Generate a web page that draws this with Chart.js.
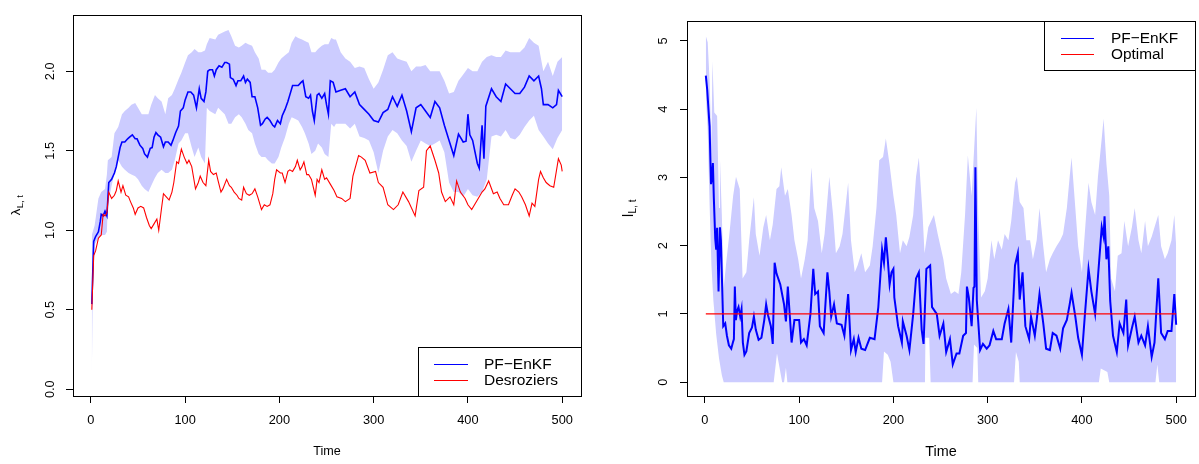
<!DOCTYPE html>
<html>
<head>
<meta charset="utf-8">
<script src="https://cdn.jsdelivr.net/npm/chart.js@4/dist/chart.umd.min.js"></script>
<style>
  html, body { margin: 0; padding: 0; background: #fff; }
  #wrap { position: relative; width: 1199px; height: 464px; }
  canvas { position: absolute; top: 0; }
  #lambdaChart { left: 0; }
  #lChart { left: 600px; }
</style>
</head>
<body>
<div id="wrap">
  <canvas id="lambdaChart" width="600" height="464"></canvas>
  <canvas id="lChart" width="599" height="464"></canvas>
</div>
<script>
// [time, value] pairs for the PF-EnKF posterior mean of lambda
const lambdaMean = [
  [1,0.535],[3,0.93],[5,0.96],[8,0.99],[10,1.055],[11,1.10],[13,1.09],[15,1.12],[17,1.09],[19,1.30],
  [22,1.32],[25,1.36],[27,1.40],[29,1.46],[31,1.52],[33,1.555],[36,1.555],[39,1.575],[41,1.585],[44,1.60],
  [47,1.575],[49,1.575],[52,1.535],[55,1.515],[57,1.48],[60,1.46],[63,1.515],[65,1.52],[67,1.585],[69,1.615],
  [71,1.60],[74,1.585],[77,1.525],[79,1.555],[82,1.555],[85,1.535],[87,1.565],[90,1.615],[93,1.655],[95,1.75],
  [98,1.77],[100,1.82],[103,1.87],[106,1.87],[109,1.85],[112,1.77],[115,1.89],[117,1.83],[120,1.81],[122,1.87],
  [124,2.00],[126,2.01],[129,2.01],[131,1.97],[133,2.01],[136,2.035],[139,2.025],[142,2.055],[144,2.055],[147,2.045],
  [148,1.96],[151,1.95],[154,1.91],[156,1.94],[159,1.94],[162,1.97],[164,1.93],[166,1.95],[169,1.93],[171,1.84],
  [174,1.84],[177,1.77],[180,1.66],[182,1.67],[185,1.70],[187,1.71],[190,1.69],[193,1.66],[195,1.65],[198,1.69],
  [201,1.67],[203,1.72],[206,1.76],[209,1.81],[211,1.85],[214,1.91],[217,1.91],[220,1.91],[223,1.93],[225,1.94],
  [228,1.84],[231,1.83],[233,1.85],[235,1.75],[237,1.69],[240,1.85],[242,1.86],[245,1.83],[248,1.86],[250,1.79],
  [252,1.73],[254,1.94],[257,1.93],[260,1.87],[265,1.88],[270,1.89],[275,1.84],[280,1.87],[285,1.79],[290,1.76],
  [295,1.73],[300,1.69],[305,1.68],[310,1.74],[315,1.76],[320,1.84],[325,1.78],[330,1.85],[335,1.75],[340,1.62],
  [345,1.77],[350,1.79],[355,1.75],[360,1.71],[365,1.81],[370,1.77],[375,1.66],[380,1.565],[385,1.47],[390,1.605],
  [395,1.555],[398,1.56],[400,1.73],[402,1.60],[405,1.565],[410,1.42],[412,1.39],[415,1.66],[417,1.45],[419,1.78],
  [425,1.89],[430,1.84],[435,1.81],[440,1.92],[445,1.89],[450,1.86],[455,1.86],[460,1.90],[465,1.97],[470,1.94],
  [475,1.97],[478,1.89],[480,1.79],[485,1.79],[490,1.77],[494,1.79],[496,1.88],[500,1.84]
];

// [time, value] pairs for the Desroziers estimate
const lambdaDesroziers = [
  [1,0.50],[3,0.84],[5,0.87],[8,0.95],[11,0.97],[13,1.10],[15,1.09],[17,1.11],[19,1.24],[22,1.20],
  [25,1.22],[27,1.25],[29,1.31],[32,1.24],[34,1.28],[37,1.22],[40,1.21],[42,1.18],[45,1.14],[47,1.10],
  [50,1.14],[53,1.15],[56,1.14],[59,1.08],[62,1.03],[64,1.01],[67,1.04],[70,1.07],[72,1.00],[75,1.14],
  [77,1.23],[80,1.21],[83,1.19],[86,1.24],[88,1.30],[91,1.43],[93,1.42],[96,1.51],[99,1.46],[102,1.42],
  [104,1.44],[107,1.40],[109,1.33],[111,1.26],[114,1.30],[116,1.34],[119,1.30],[122,1.28],[125,1.44],[127,1.37],
  [130,1.35],[133,1.36],[135,1.31],[138,1.24],[140,1.26],[144,1.32],[147,1.28],[149,1.27],[152,1.24],[155,1.22],
  [157,1.20],[160,1.19],[162,1.27],[165,1.23],[168,1.22],[171,1.23],[174,1.26],[177,1.21],[180,1.15],[181,1.13],
  [184,1.16],[187,1.15],[190,1.16],[193,1.23],[195,1.32],[197,1.38],[201,1.36],[203,1.36],[206,1.30],[209,1.37],
  [211,1.38],[214,1.37],[217,1.40],[219,1.44],[222,1.38],[224,1.40],[226,1.43],[229,1.35],[231,1.35],[234,1.32],
  [238,1.22],[240,1.32],[242,1.30],[245,1.38],[248,1.32],[250,1.33],[254,1.29],[258,1.25],[261,1.21],[266,1.20],
  [270,1.18],[275,1.20],[278,1.34],[284,1.47],[287,1.46],[291,1.44],[296,1.36],[302,1.37],[305,1.30],[310,1.27],
  [315,1.16],[321,1.13],[326,1.16],[331,1.24],[337,1.18],[344,1.09],[348,1.25],[353,1.27],[356,1.50],[360,1.53],
  [365,1.44],[369,1.36],[372,1.24],[376,1.18],[381,1.21],[385,1.16],[388,1.31],[392,1.24],[397,1.20],[400,1.16],
  [404,1.13],[410,1.19],[415,1.24],[418,1.26],[422,1.31],[427,1.23],[431,1.24],[434,1.20],[438,1.16],[443,1.16],
  [447,1.22],[450,1.26],[454,1.24],[457,1.21],[461,1.16],[465,1.09],[468,1.17],[471,1.15],[475,1.32],[477,1.37],
  [480,1.33],[483,1.30],[487,1.28],[491,1.27],[496,1.45],[499,1.41],[500,1.37]
];

// [time, lower, upper] of the PF-EnKF credible band for lambda
const lambdaBand = [
  [1,0.07,0.97],[2,0.60,0.99],[4,0.91,1.03],[8,0.95,1.20],[11,0.97,1.24],[15,0.97,1.26],[17,0.99,1.35],
  [18,1.16,1.44],[22,1.28,1.46],[25,1.36,1.61],[29,1.44,1.65],[33,1.40,1.73],[36,1.38,1.75],[40,1.36,1.77],
  [43,1.35,1.79],[47,1.34,1.80],[50,1.32,1.77],[54,1.28,1.73],[57,1.26,1.73],[61,1.24,1.73],[64,1.28,1.79],
  [68,1.33,1.85],[71,1.36,1.83],[75,1.38,1.81],[79,1.36,1.73],[82,1.36,1.83],[86,1.38,1.85],[89,1.44,1.89],
  [93,1.545,1.95],[96,1.565,1.99],[100,1.61,2.055],[103,1.61,2.10],[107,1.52,2.12],[110,1.46,2.14],[114,1.52,2.12],
  [117,1.46,2.12],[121,1.42,2.13],[123,1.77,2.17],[126,1.75,2.21],[132,1.73,2.20],[135,1.77,2.23],[142,1.73,2.25],
  [146,1.67,2.26],[149,1.67,2.22],[153,1.71,2.16],[157,1.73,2.15],[160,1.71,2.16],[164,1.67,2.18],[167,1.63,2.17],
  [171,1.61,2.16],[174,1.545,2.12],[178,1.48,2.08],[181,1.46,2.01],[185,1.46,2.01],[188,1.44,1.99],[192,1.42,1.99],
  [195,1.42,2.01],[199,1.46,2.055],[202,1.52,2.08],[206,1.585,2.10],[210,1.67,2.12],[213,1.71,2.18],[217,1.70,2.22],
  [220,1.69,2.21],[224,1.65,2.20],[227,1.61,2.19],[231,1.545,2.18],[234,1.48,2.12],[238,1.50,2.12],[241,1.545,2.14],
  [245,1.52,2.16],[248,1.48,2.17],[252,1.46,2.17],[255,1.67,2.21],[258,1.65,2.20],[260,1.67,2.20],[265,1.67,2.12],
  [270,1.67,2.08],[275,1.64,2.06],[280,1.67,2.02],[285,1.59,2.03],[290,1.58,2.02],[295,1.565,1.95],[300,1.49,1.89],
  [305,1.36,1.93],[310,1.50,2.01],[315,1.59,2.10],[320,1.63,2.12],[325,1.61,2.08],[330,1.565,2.07],[335,1.53,2.06],
  [340,1.43,2.00],[345,1.50,2.03],[350,1.565,2.03],[355,1.545,2.04],[360,1.53,2.00],[365,1.545,2.00],[370,1.565,2.00],
  [375,1.49,1.94],[380,1.30,1.86],[385,1.24,1.87],[390,1.24,1.94],[395,1.21,1.98],[400,1.26,2.02],[405,1.22,2.00],
  [410,1.21,2.00],[415,1.24,2.06],[420,1.32,2.09],[425,1.59,2.10],[430,1.60,2.09],[435,1.59,2.09],[440,1.63,2.13],
  [445,1.58,2.12],[450,1.57,2.12],[455,1.60,2.12],[460,1.65,2.15],[465,1.69,2.21],[470,1.72,2.18],[475,1.63,2.16],
  [480,1.59,2.00],[485,1.545,2.06],[490,1.51,1.97],[495,1.58,2.06],[500,1.63,2.09]
];

// [time, value] pairs for the PF-EnKF posterior mean of l
const lMean = [
  [1,4.49],[2.5,4.28],[5,3.75],[6.5,2.9],[7.5,3.0],[8.5,3.21],[9.5,2.7],[11,2.1],[12,1.94],[13,2.26],
  [14.5,1.33],[16,2.27],[17,2.08],[19.5,0.82],[21.6,0.86],[23.4,0.68],[25.5,0.54],[28,0.49],[29.7,0.58],[30.8,0.63],
  [31.8,1.40],[32.9,0.91],[34.3,1.05],[35.7,1.10],[37.5,0.96],[38.9,1.07],[40.3,0.58],[42,0.40],[44,0.45],[47,0.72],
  [50,0.80],[52,0.96],[54,0.77],[57,0.62],[60,0.65],[63,0.91],[65,1.14],[67,0.98],[70,0.82],[72,0.56],
  [74,1.75],[76,1.59],[80,1.43],[84,1.14],[86,0.89],[88,1.40],[92,0.58],[95,0.91],[100,0.91],[102,0.58],
  [105,0.63],[108,0.54],[112,1.00],[115,1.66],[117,1.29],[120,1.33],[122,0.82],[126,0.72],[130,1.61],[132,1.33],
  [134,0.96],[137,1.14],[140,0.86],[145,0.84],[148,0.68],[152,1.29],[155,0.47],[158,0.63],[160,0.44],[163,0.65],
  [166,0.49],[170,0.47],[175,0.65],[180,0.63],[184,1.10],[188,1.94],[190,1.75],[192,2.12],[194,1.80],[196,1.43],
  [198,1.61],[200,1.66],[201,1.24],[205,0.82],[209,0.58],[210,0.89],[214,0.68],[217,0.47],[221,1.00],[224,1.52],
  [227,1.61],[230,0.77],[232,0.56],[235,1.66],[239,1.71],[241,1.10],[246,1.00],[249,0.68],[253,0.86],[256,0.44],
  [260,0.63],[263,0.26],[267,0.42],[270,0.42],[274,0.68],[277,0.72],[278,1.40],[280,1.24],[283,0.82],[285,1.38],
  [286,1.40],[287,3.15],[288.5,1.2],[292,0.47],[295,0.56],[299,0.49],[302,0.54],[306,0.75],[309,0.63],[315,0.63],
  [318,0.86],[322,1.07],[325,0.58],[329,1.71],[332,1.89],[334,1.21],[337,1.61],[340,0.82],[344,0.63],[346,0.96],
  [350,0.68],[352,0.91],[355,1.29],[359,0.86],[362,0.49],[366,0.47],[369,0.72],[373,0.68],[377,0.49],[380,0.79],
  [384,0.91],[387,1.14],[389,1.31],[393,0.96],[396,0.65],[400,0.40],[403,0.96],[407,1.66],[410,1.33],[414,1.00],
  [417,1.54],[421,2.27],[423,2.13],[424,2.43],[426,1.80],[428,1.99],[430,1.19],[433,0.68],[437,0.44],[440,0.86],
  [444,0.72],[447,1.21],[449,0.54],[453,0.79],[456,0.96],[460,0.58],[463,0.68],[467,0.54],[470,0.82],[474,0.37],
  [477,0.58],[481,1.52],[484,0.72],[488,0.63],[491,0.75],[495,0.75],[498,1.29],[500,0.84]
];

// [time, value] upper edge of the band for l
const lUpper = [
  [1,5.07],[3,4.98],[5,4.42],[7,3.48],[8,4.70],[10,3.95],[13,3.90],[15,2.55],[16,3.27],[18,2.45],
  [20,1.38],[23,1.80],[26,2.17],[30,2.73],[33,3.01],[37,2.83],[40,1.52],[44,1.61],[47,2.08],[52,2.71],
  [54,2.17],[58,1.85],[62,2.27],[65,2.45],[69,2.08],[72,2.31],[76,2.83],[79,2.87],[81,3.15],[85,2.73],
  [88,2.83],[92,2.45],[95,2.08],[99,1.80],[102,1.52],[106,1.80],[109,2.08],[113,3.15],[116,2.55],[120,2.36],
  [124,1.89],[127,2.17],[132,3.01],[136,2.45],[139,1.89],[143,1.99],[146,2.17],[152,2.92],[155,2.08],[159,1.61],
  [162,1.71],[166,1.89],[170,1.61],[175,1.71],[178,1.99],[182,2.55],[185,3.25],[189,3.30],[192,3.57],[196,3.18],
  [200,2.73],[203,2.45],[207,1.89],[210,2.08],[214,1.99],[217,2.13],[221,2.45],[224,3.01],[227,3.29],[231,2.45],
  [233,1.89],[237,2.27],[240,2.36],[243,2.45],[247,2.17],[253,1.80],[256,1.52],[261,1.29],[265,1.33],[269,1.29],
  [272,1.61],[276,2.45],[279,3.32],[283,2.73],[285,3.25],[288,4.02],[290,2.45],[293,1.24],[297,1.33],[300,1.52],
  [304,2.08],[307,1.80],[311,2.08],[315,1.94],[318,2.17],[322,2.08],[325,2.36],[329,2.92],[331,3.01],[334,2.64],
  [338,2.55],[341,2.08],[345,2.08],[348,1.80],[352,2.08],[355,2.55],[359,1.99],[362,1.61],[366,1.80],[369,1.89],
  [373,1.99],[377,2.08],[380,2.17],[384,2.55],[387,3.01],[389,3.29],[393,2.55],[396,1.99],[400,1.61],[403,2.17],
  [407,2.92],[410,2.64],[414,2.45],[417,3.01],[421,3.57],[423,3.86],[426,3.20],[429,2.73],[431,1.52],[435,1.33],
  [438,1.85],[442,1.89],[445,2.36],[449,1.99],[453,2.27],[456,2.55],[460,2.08],[463,1.89],[467,2.36],[470,1.99],
  [474,2.13],[477,2.27],[481,2.45],[484,1.99],[488,1.80],[491,1.89],[495,2.08],[498,2.45],[500,1.99]
];

// [time, value] lower edge of the band for l (sits on zero most of the run)
const lLower = [
  [1,4.2],[3,3.7],[5,2.6],[7,1.7],[9,1.2],[12,0.7],[15,0.35],[18,0.1],[20,0],[73,0],
  [76.5,0.42],[82,0],[84,0],[86,0.21],[87.5,0],[188,0],[190,0.45],[194,0.4],[197,0.3],[200,0],
  [233.5,0],[234,0.65],[238,0.65],[239.5,0],[284,0],[285.5,0.55],[289,0.5],[290,0],[328,0],[330,0.44],
  [333,0.3],[334,0],[418,0],[420,0.2],[427,0.15],[429,0],[478,0],[480,0.26],[482,0],[500,0]
];

// the optimal value of l is flat
const lOptimal = [[1,1],[500,1]];

const timeTicks = [0, 100, 200, 300, 400, 500];
const lambdaTicks = [0, 0.5, 1, 1.5, 2];
const lTicks = [0, 1, 2, 3, 4, 5];

const FONT = "'Liberation Sans', Arial, Helvetica, sans-serif";
const BAND = 'rgb(204, 204, 255)';
const BLUE = '#0000ff';
const RED = '#ff0000';

Chart.defaults.font.family = FONT;
Chart.defaults.color = '#000';

const xy = pairs => pairs.map(p => ({ x: p[0], y: p[1] }));

// box round the plotting region, as base graphics draws it
const frame = {
  id: 'frame',
  afterDatasetsDraw(chart) {
    const { ctx, chartArea: a } = chart;
    ctx.save();
    ctx.strokeStyle = '#000';
    ctx.lineWidth = 1;
    ctx.strokeRect(Math.round(a.left) + 0.5, Math.round(a.top) + 0.5,
      Math.round(a.right - a.left), Math.round(a.bottom - a.top));
    ctx.restore();
  }
};

// boxed legend inside the plot, built from the labelled datasets
const boxLegend = {
  id: 'boxLegend',
  afterDraw(chart, args, o) {
    const { ctx, chartArea: a } = chart;
    const items = chart.data.datasets.filter(d => d.label);
    const x0 = Math.round(a.right - o.width);
    const y0 = Math.round(o.corner === 'top' ? a.top : a.bottom - o.height);
    ctx.save();
    ctx.fillStyle = '#fff';
    ctx.fillRect(x0, y0, o.width, o.height);
    ctx.strokeStyle = '#000';
    ctx.lineWidth = 1;
    ctx.strokeRect(x0 + 0.5, y0 + 0.5, o.width, o.height);
    ctx.font = o.fontSize + 'px ' + FONT;
    ctx.textBaseline = 'middle';
    items.forEach((d, i) => {
      const y = Math.round(y0 + o.rowTop + i * o.rowGap) + 0.5;
      ctx.strokeStyle = d.borderColor;
      ctx.lineWidth = 1;
      ctx.beginPath();
      ctx.moveTo(x0 + o.lineFrom, y);
      ctx.lineTo(x0 + o.lineTo, y);
      ctx.stroke();
      ctx.fillStyle = '#000';
      ctx.fillText(d.label, x0 + o.textAt, y);
    });
    ctx.restore();
  }
};

// rotated y axis title with a subscript
const yTitle = {
  id: 'yTitle',
  afterDraw(chart, args, o) {
    const { ctx, chartArea: a } = chart;
    ctx.save();
    ctx.translate(o.x, (a.top + a.bottom) / 2);
    ctx.rotate(-Math.PI / 2);
    ctx.fillStyle = '#000';
    ctx.textBaseline = 'alphabetic';
    ctx.font = o.size + 'px ' + FONT;
    const w1 = ctx.measureText(o.main).width;
    ctx.font = o.subSize + 'px ' + FONT;
    const w2 = ctx.measureText(o.sub).width;
    const start = -(w1 + w2) / 2;
    ctx.font = o.size + 'px ' + FONT;
    ctx.fillText(o.main, start, o.base);
    ctx.font = o.subSize + 'px ' + FONT;
    ctx.fillText(o.sub, start + w1 + 0.5, o.base + o.drop);
    ctx.restore();
  }
};

function axes(o) {
  const tickMarks = { drawOnChartArea: false, drawTicks: true, tickLength: 7, color: '#000', lineWidth: 1 };
  return {
    x: {
      type: 'linear',
      min: -18.96,
      max: 519.96,
      afterFit: s => { s.height = 68; },
      afterBuildTicks: s => { s.ticks = timeTicks.map(value => ({ value })); },
      grid: tickMarks,
      border: { display: false },
      ticks: { font: { size: 12.8 }, padding: 10, maxRotation: 0, autoSkip: false, callback: v => String(v) },
      title: { display: true, text: 'Time', font: { size: o.timeSize, lineHeight: 1 }, padding: { top: 0, bottom: o.timePad } }
    },
    y: {
      type: 'linear',
      min: o.yMin,
      max: o.yMax,
      afterFit: s => { s.width = o.yWidth; },
      afterBuildTicks: s => { s.ticks = o.yTicks.map(value => ({ value })); },
      grid: tickMarks,
      border: { display: false },
      ticks: {
        font: { size: 12.8 }, padding: o.yPad, minRotation: 90, maxRotation: 90,
        crossAlign: 'center', autoSkip: false, callback: o.fmt
      }
    }
  };
}

const line = (label, pairs, color, width, order) => ({
  label, data: xy(pairs), borderColor: color, borderWidth: width,
  pointRadius: 0, fill: false, tension: 0, order
});

const edge = (pairs, fill, order) => ({
  data: xy(pairs), borderColor: 'rgba(0,0,0,0)', borderWidth: 0,
  backgroundColor: BAND, pointRadius: 0, fill, tension: 0, order
});

new Chart(document.getElementById('lambdaChart'), {
  type: 'line',
  data: {
    datasets: [
      edge(lambdaBand.map(r => [r[0], r[2]]), '+1', 2),
      edge(lambdaBand.map(r => [r[0], r[1]]), false, 3),
      line('PF\u2212EnKF', lambdaMean, BLUE, 1.6, 1),
      line('Desroziers', lambdaDesroziers, RED, 1.1, 0)
    ]
  },
  options: {
    responsive: false,
    animation: false,
    layout: { padding: { top: 4, right: 19, left: 0, bottom: 0 } },
    scales: axes({
      yMin: -0.043, yMax: 2.356, yTicks: lambdaTicks, yWidth: 73, yPad: 7,
      fmt: v => v.toFixed(1), timeSize: 12.6, timePad: 5.7
    }),
    plugins: {
      legend: { display: false },
      tooltip: { enabled: false },
      boxLegend: { corner: 'bottom', width: 163, height: 49, rowTop: 16.5, rowGap: 16.7, lineFrom: 16, lineTo: 50, textAt: 66, fontSize: 15.5 },
      yTitle: { x: 15, main: '\u03bb', sub: 'L, t', size: 13, subSize: 9.5, base: 4.5, drop: 3 }
    }
  },
  plugins: [frame, boxLegend, yTitle]
});

new Chart(document.getElementById('lChart'), {
  type: 'line',
  data: {
    datasets: [
      edge(lUpper, '+1', 2),
      edge(lLower, false, 3),
      line('PF\u2212EnKF', lMean, BLUE, 2, 1),
      line('Optimal', lOptimal, RED, 1.4, 0)
    ]
  },
  options: {
    responsive: false,
    animation: false,
    layout: { padding: { top: 4, right: 4, left: 0, bottom: 0 } },
    scales: axes({
      yMin: -0.203, yMax: 5.29, yTicks: lTicks, yWidth: 87, yPad: 13.4,
      fmt: v => String(v), timeSize: 14.4, timePad: 4.8
    }),
    plugins: {
      legend: { display: false },
      tooltip: { enabled: false },
      boxLegend: { corner: 'top', width: 151, height: 49, rowTop: 16.7, rowGap: 16.3, lineFrom: 17, lineTo: 50, textAt: 67, fontSize: 15.4 },
      yTitle: { x: 28, main: 'l', sub: 'L, t', size: 14, subSize: 10, base: 5, drop: 3 }
    }
  },
  plugins: [frame, boxLegend, yTitle]
});
</script>
</body>
</html>
